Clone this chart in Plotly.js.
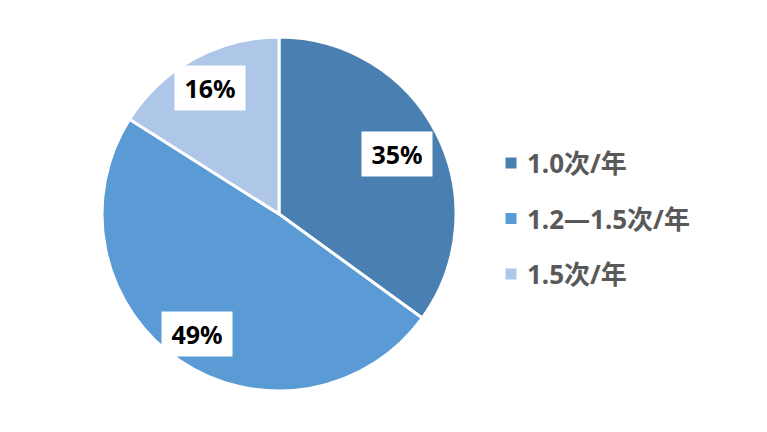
<!DOCTYPE html>
<html>
<head>
<meta charset="utf-8">
<script src="https://cdn.plot.ly/plotly-3.0.1.min.js"></script>
<style>html,body{margin:0;padding:0;background:#fff;}#chart{width:767px;height:432px;}</style>
</head>
<body>
<div id="chart"></div>
<script>
const categories = ["1.0次/年", "1.2—1.5次/年", "1.5次/年"];
const values = [35, 49, 16];
const valueLabels = ["35%", "49%", "16%"];

const colors = ["#4a7fb1", "#5b9bd5", "#aec6e8"];
const W = 767, H = 432;
const cx = 279, cy = 214, R = 177;
const labelR = [0.75, 0.82, 0.81];
const font = "'Noto Sans', 'Noto Sans CJK SC', sans-serif";

const total = values.reduce((a, b) => a + b, 0);
const annotations = [];
const shapes = [];
let cum = 0;
values.forEach((v, i) => {
  const mid = (cum + v / 2) / total * 2 * Math.PI;
  cum += v;
  const px = cx + labelR[i] * R * Math.sin(mid);
  const py = cy - labelR[i] * R * Math.cos(mid);
  annotations.push({
    xref: 'paper', yref: 'paper', x: px / W, y: 1 - py / H,
    text: '<b>' + valueLabels[i] + '</b>', showarrow: false,
    font: {family: font, size: 25, color: '#000'},
    bgcolor: '#ffffff', borderpad: 5, width: 60, height: 34,
    xanchor: 'center', yanchor: 'middle'
  });
});

const legX = 511, legY0 = 163, legGap = 55.5, sq = 11;
categories.forEach((c, i) => {
  const y = legY0 + i * legGap;
  shapes.push({
    type: 'rect', xref: 'paper', yref: 'paper',
    x0: (legX - sq / 2) / W, x1: (legX + sq / 2) / W,
    y0: 1 - (y + sq / 2) / H, y1: 1 - (y - sq / 2) / H,
    fillcolor: colors[i], line: {width: 0}
  });
  annotations.push({
    xref: 'paper', yref: 'paper', x: (legX + 14) / W, y: 1 - y / H,
    text: '<b>' + c + '</b>', showarrow: false,
    font: {family: font, size: 26, color: '#595959'},
    xanchor: 'left', yanchor: 'middle'
  });
});

const data = [{
  type: 'pie',
  labels: categories,
  values: values,
  sort: false,
  direction: 'clockwise',
  rotation: 0,
  textinfo: 'none',
  hoverinfo: 'label+percent',
  marker: {colors: colors, line: {color: '#ffffff', width: 3}},
  domain: {x: [(cx - R) / W, (cx + R) / W], y: [1 - (cy + R) / H, 1 - (cy - R) / H]},
  showlegend: false
}];

const layout = {
  width: W, height: H,
  margin: {l: 0, r: 0, t: 0, b: 0},
  paper_bgcolor: '#ffffff',
  showlegend: false,
  annotations: annotations,
  shapes: shapes
};

Plotly.newPlot('chart', data, layout, {displayModeBar: false, staticPlot: true});
</script>
</body>
</html>
